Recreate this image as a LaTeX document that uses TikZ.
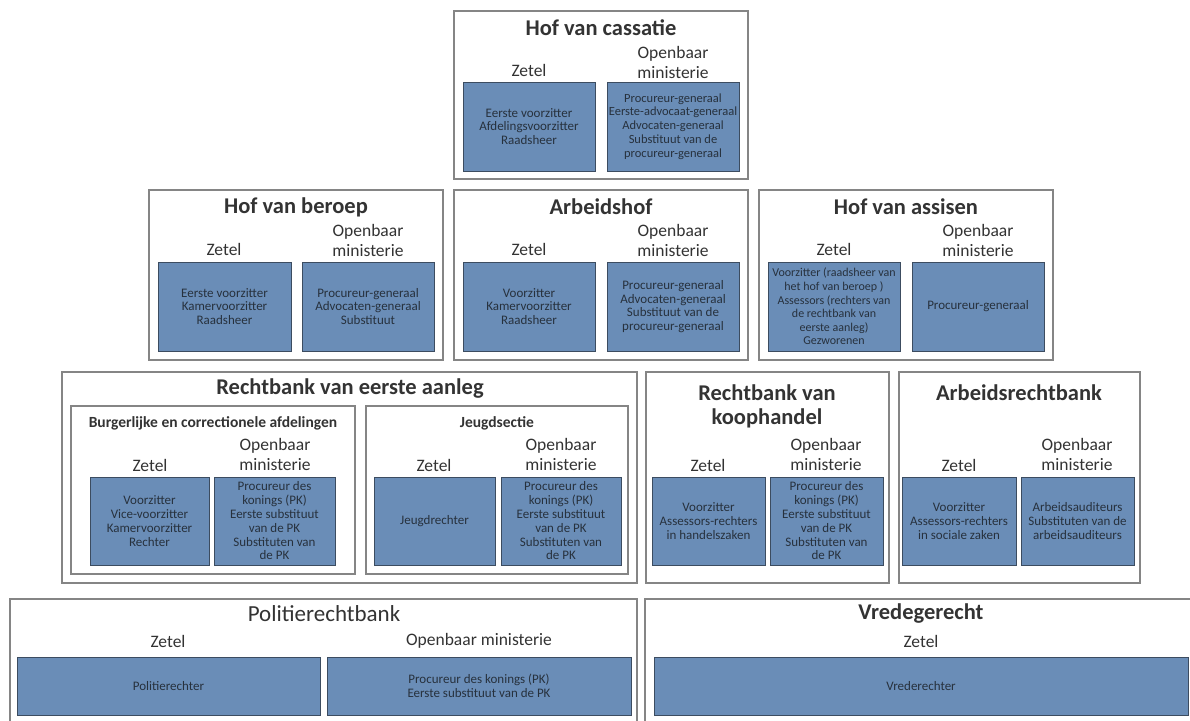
\documentclass[tikz,border=0pt]{standalone}
\usepackage{fontspec}
\setmainfont{Carlito}
\definecolor{framegray}{HTML}{858585}
\definecolor{bluefill}{HTML}{6A8DB7}
\definecolor{blueborder}{HTML}{3C4C60}
\definecolor{bluetext}{HTML}{27313D}
\definecolor{titlegray}{HTML}{333333}
\tikzset{
  court/.style={draw=framegray, line width=1.3pt, fill=white, inner sep=0pt, outer sep=0pt, anchor=north west},
  posbox/.style={draw=blueborder, fill=bluefill, line width=1pt, inner sep=1pt, outer sep=0pt, anchor=north west, align=center, text=bluetext, font=\fontsize{13}{13.8}\selectfont},
  ttl/.style={text=titlegray, font=\bfseries\fontsize{22.5}{24}\selectfont, align=center},
  ttlreg/.style={text=titlegray, font=\fontsize{23}{24}\selectfont, align=center},
  hdr/.style={text=titlegray, font=\fontsize{17.5}{20}\selectfont, align=center},
  subttl/.style={text=titlegray, font=\bfseries\fontsize{15.5}{18}\selectfont},
}
\begin{document}
\begin{tikzpicture}[x=1pt,y=-1pt]
\useasboundingbox (0,0) rectangle (1190,720);
\fill[white] (0,0) rectangle (1190,720);

% ---------- Row 1: Hof van cassatie ----------
\node[court, minimum width=294, minimum height=168] (cas) at (454,11) {};
\node[ttl] (cas-t) at (601,28) {Hof van cassatie};
\node[hdr] (cas-zh) at (529,70) {Zetel};
\node[hdr] (cas-oh) at (673,62) {Openbaar\\ministerie};
\node[posbox, minimum width=132, minimum height=89] (cas-z) at (463,82) {Eerste voorzitter\\Afdelingsvoorzitter\\Raadsheer};
\node[posbox, minimum width=132, minimum height=89, font=\fontsize{12.5}{13.8}\selectfont] (cas-o) at (607,82) {Procureur-generaal\\Eerste-advocaat-generaal\\Advocaten-generaal\\Substituut van de\\procureur-generaal};

% ---------- Row 2 ----------
% Hof van beroep
\node[court, minimum width=294, minimum height=170] (hvb) at (149,190) {};
\node[ttl] (hvb-t) at (296,207) {Hof van beroep};
\node[hdr] (hvb-zh) at (224,249) {Zetel};
\node[hdr] (hvb-oh) at (368,240) {Openbaar\\ministerie};
\node[posbox, minimum width=133, minimum height=89] (hvb-z) at (158,262) {Eerste voorzitter\\Kamervoorzitter\\Raadsheer};
\node[posbox, minimum width=132, minimum height=89] (hvb-o) at (302,262) {Procureur-generaal\\Advocaten-generaal\\Substituut};

% Arbeidshof
\node[court, minimum width=294, minimum height=170] (ah) at (454,190) {};
\node[ttl] (ah-t) at (601,207) {Arbeidshof};
\node[hdr] (ah-zh) at (529,249) {Zetel};
\node[hdr] (ah-oh) at (673,240) {Openbaar\\ministerie};
\node[posbox, minimum width=132, minimum height=89] (ah-z) at (463,262) {Voorzitter\\Kamervoorzitter\\Raadsheer};
\node[posbox, minimum width=132, minimum height=89] (ah-o) at (607,262) {Procureur-generaal\\Advocaten-generaal\\Substituut van de\\procureur-generaal};

% Hof van assisen
\node[court, minimum width=294, minimum height=170] (ha) at (759,190) {};
\node[ttl] (ha-t) at (906,207) {Hof van assisen};
\node[hdr] (ha-zh) at (834,249) {Zetel};
\node[hdr] (ha-oh) at (978,240) {Openbaar\\ministerie};
\node[posbox, minimum width=132, minimum height=89, font=\fontsize{12}{13.6}\selectfont] (ha-z) at (768,262) {Voorzitter (raadsheer van\\het hof van beroep )\\Assessors (rechters van\\de rechtbank van\\eerste aanleg)\\Gezworenen};
\node[posbox, minimum width=132, minimum height=89] (ha-o) at (912,262) {Procureur-generaal};

% ---------- Row 3 ----------
% Rechtbank van eerste aanleg
\node[court, minimum width=575, minimum height=211] (rea) at (62,372) {};
\node[ttl] (rea-t) at (350,389) {Rechtbank van eerste aanleg};
\node[court, minimum width=284, minimum height=168] (bca) at (71,406) {};
\node[subttl] (bca-t) at (213,423) {Burgerlijke en correctionele afdelingen};
\node[hdr] (bca-zh) at (150,465) {Zetel};
\node[hdr] (bca-oh) at (275,454) {Openbaar\\ministerie};
\node[posbox, minimum width=119, minimum height=88] (bca-z) at (90,477) {Voorzitter\\Vice-voorzitter\\Kamervoorzitter\\Rechter};
\node[posbox, minimum width=121, minimum height=88] (bca-o) at (214,477) {Procureur des\\konings (PK)\\Eerste substituut\\van de PK\\Substituten van\\de PK};

\node[court, minimum width=262, minimum height=168] (js) at (366,406) {};
\node[subttl] (js-t) at (497,423) {Jeugdsectie};
\node[hdr] (js-zh) at (434,465) {Zetel};
\node[hdr] (js-oh) at (561,454) {Openbaar\\ministerie};
\node[posbox, minimum width=121, minimum height=88] (js-z) at (374,477) {Jeugdrechter};
\node[posbox, minimum width=120, minimum height=88] (js-o) at (501,477) {Procureur des\\konings (PK)\\Eerste substituut\\van de PK\\Substituten van\\de PK};

% Rechtbank van koophandel
\node[court, minimum width=243, minimum height=211] (rvk) at (646,372) {};
\node[ttl] (rvk-t) at (767,406) {Rechtbank van\\koophandel};
\node[hdr] (rvk-zh) at (708,465) {Zetel};
\node[hdr] (rvk-oh) at (826,454) {Openbaar\\ministerie};
\node[posbox, minimum width=113, minimum height=88] (rvk-z) at (652,477) {Voorzitter\\Assessors-rechters\\in handelszaken};
\node[posbox, minimum width=113, minimum height=88] (rvk-o) at (770,477) {Procureur des\\konings (PK)\\Eerste substituut\\van de PK\\Substituten van\\de PK};

% Arbeidsrechtbank
\node[court, minimum width=241, minimum height=211] (arb) at (899,372) {};
\node[ttl] (arb-t) at (1019,393) {Arbeidsrechtbank};
\node[hdr] (arb-zh) at (959,465) {Zetel};
\node[hdr] (arb-oh) at (1077,454) {Openbaar\\ministerie};
\node[posbox, minimum width=114, minimum height=88] (arb-z) at (902,477) {Voorzitter\\Assessors-rechters\\in sociale zaken};
\node[posbox, minimum width=113, minimum height=88] (arb-o) at (1021,477) {Arbeidsauditeurs\\Substituten van de\\arbeidsauditeurs};

% ---------- Row 4 ----------
% Politierechtbank
\node[court, minimum width=627, minimum height=124] (pol) at (10,599) {};
\node[ttlreg] (pol-t) at (324,614) {Politierechtbank};
\node[hdr] (pol-zh) at (168,641) {Zetel};
\node[hdr] (pol-oh) at (479,641) {Openbaar ministerie};
\node[posbox, minimum width=303, minimum height=58] (pol-z) at (17,657) {Politierechter};
\node[posbox, minimum width=304, minimum height=58] (pol-o) at (327,657) {Procureur des konings (PK)\\Eerste substituut van de PK};

% Vredegerecht
\node[court, minimum width=560, minimum height=124] (vre) at (645,599) {};
\node[ttl] (vre-t) at (921,614) {Vredegerecht};
\node[hdr] (vre-zh) at (921,641) {Zetel};
\node[posbox, minimum width=534, minimum height=58] (vre-z) at (654,657) {Vrederechter};
\end{tikzpicture}
\end{document}
